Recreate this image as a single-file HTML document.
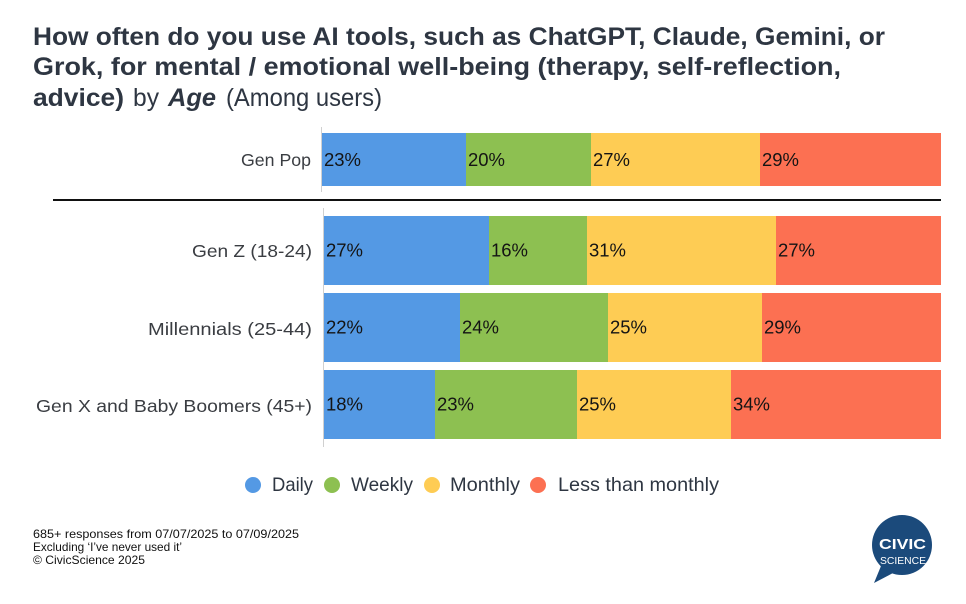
<!DOCTYPE html>
<html>
<head>
<meta charset="utf-8">
<style>
  html,body{margin:0;padding:0;background:#fff;}
  svg{display:block;}
  text{font-family:"Liberation Sans",Arial,sans-serif;}
</style>
</head>
<body>
<svg width="966" height="604" viewBox="0 0 966 604" xmlns="http://www.w3.org/2000/svg">
  <rect width="966" height="604" fill="#fff"/>

  <!-- Title -->
  <g fill="#2e3642" font-size="25">
    <text x="33" y="45" font-weight="bold" textLength="852" lengthAdjust="spacingAndGlyphs">How often do you use AI tools, such as ChatGPT, Claude, Gemini, or</text>
    <text x="33" y="75" font-weight="bold" textLength="808" lengthAdjust="spacingAndGlyphs">Grok, for mental / emotional well-being (therapy, self-reflection,</text>
    <text x="33" y="106" font-weight="bold" textLength="91" lengthAdjust="spacingAndGlyphs">advice)</text>
    <text x="133" y="106" textLength="26" lengthAdjust="spacingAndGlyphs">by</text>
    <text x="168" y="106" font-weight="bold" font-style="italic" textLength="48" lengthAdjust="spacingAndGlyphs">Age</text>
    <text x="226" y="106" textLength="156" lengthAdjust="spacingAndGlyphs">(Among users)</text>
  </g>

  <!-- Axis lines -->
  <line x1="321.5" y1="127" x2="321.5" y2="192" stroke="#d0d0d0" stroke-width="1"/>
  <line x1="323.5" y1="208" x2="323.5" y2="447" stroke="#d0d0d0" stroke-width="1"/>

  <!-- Separator -->
  <line x1="53" y1="200" x2="941" y2="200" stroke="#111" stroke-width="2"/>

  <!-- Gen Pop -->
  <rect x="322" y="133" width="144" height="53" fill="#5499e4"/>
  <rect x="466" y="133" width="125" height="53" fill="#8dc051"/>
  <rect x="591" y="133" width="169" height="53" fill="#fecc54"/>
  <rect x="760" y="133" width="181" height="53" fill="#fc7052"/>

  <!-- Gen Z -->
  <rect x="324" y="216" width="165" height="69" fill="#5499e4"/>
  <rect x="489" y="216" width="98" height="69" fill="#8dc051"/>
  <rect x="587" y="216" width="189" height="69" fill="#fecc54"/>
  <rect x="776" y="216" width="165" height="69" fill="#fc7052"/>

  <!-- Millennials -->
  <rect x="324" y="293" width="136" height="69" fill="#5499e4"/>
  <rect x="460" y="293" width="148" height="69" fill="#8dc051"/>
  <rect x="608" y="293" width="154" height="69" fill="#fecc54"/>
  <rect x="762" y="293" width="179" height="69" fill="#fc7052"/>

  <!-- Gen X -->
  <rect x="324" y="370" width="111" height="69" fill="#5499e4"/>
  <rect x="435" y="370" width="142" height="69" fill="#8dc051"/>
  <rect x="577" y="370" width="154" height="69" fill="#fecc54"/>
  <rect x="731" y="370" width="210" height="69" fill="#fc7052"/>

  <!-- Category labels -->
  <g fill="#3a3d42" font-size="17.5" text-anchor="end">
    <text x="311" y="166" textLength="70" lengthAdjust="spacingAndGlyphs">Gen Pop</text>
    <text x="312" y="257" textLength="120" lengthAdjust="spacingAndGlyphs">Gen Z (18-24)</text>
    <text x="312" y="335" textLength="164" lengthAdjust="spacingAndGlyphs">Millennials (25-44)</text>
    <text x="312" y="412" textLength="276" lengthAdjust="spacingAndGlyphs">Gen X and Baby Boomers (45+)</text>
  </g>

  <!-- Value labels -->
  <g fill="#141414" font-size="18">
    <text x="324" y="166" textLength="37" lengthAdjust="spacingAndGlyphs">23%</text>
    <text x="468" y="166" textLength="37" lengthAdjust="spacingAndGlyphs">20%</text>
    <text x="593" y="166" textLength="37" lengthAdjust="spacingAndGlyphs">27%</text>
    <text x="762" y="166" textLength="37" lengthAdjust="spacingAndGlyphs">29%</text>

    <text x="326" y="256.5" textLength="37" lengthAdjust="spacingAndGlyphs">27%</text>
    <text x="491" y="256.5" textLength="37" lengthAdjust="spacingAndGlyphs">16%</text>
    <text x="589" y="256.5" textLength="37" lengthAdjust="spacingAndGlyphs">31%</text>
    <text x="778" y="256.5" textLength="37" lengthAdjust="spacingAndGlyphs">27%</text>

    <text x="326" y="333.5" textLength="37" lengthAdjust="spacingAndGlyphs">22%</text>
    <text x="462" y="333.5" textLength="37" lengthAdjust="spacingAndGlyphs">24%</text>
    <text x="610" y="333.5" textLength="37" lengthAdjust="spacingAndGlyphs">25%</text>
    <text x="764" y="333.5" textLength="37" lengthAdjust="spacingAndGlyphs">29%</text>

    <text x="326" y="410.5" textLength="37" lengthAdjust="spacingAndGlyphs">18%</text>
    <text x="437" y="410.5" textLength="37" lengthAdjust="spacingAndGlyphs">23%</text>
    <text x="579" y="410.5" textLength="37" lengthAdjust="spacingAndGlyphs">25%</text>
    <text x="733" y="410.5" textLength="37" lengthAdjust="spacingAndGlyphs">34%</text>
  </g>

  <!-- Legend -->
  <circle cx="253" cy="485" r="8" fill="#5499e4"/>
  <circle cx="332" cy="485" r="8" fill="#8dc051"/>
  <circle cx="432" cy="485" r="8" fill="#fecc54"/>
  <circle cx="538" cy="485" r="8" fill="#fc7052"/>
  <g fill="#2e3642" font-size="19.5">
    <text x="272" y="491" textLength="41" lengthAdjust="spacingAndGlyphs">Daily</text>
    <text x="351" y="491" textLength="62" lengthAdjust="spacingAndGlyphs">Weekly</text>
    <text x="450" y="491" textLength="70" lengthAdjust="spacingAndGlyphs">Monthly</text>
    <text x="558" y="491" textLength="161" lengthAdjust="spacingAndGlyphs">Less than monthly</text>
  </g>

  <!-- Footer -->
  <g fill="#111" font-size="12">
    <text x="33" y="538" textLength="266" lengthAdjust="spacingAndGlyphs">685+ responses from 07/07/2025 to 07/09/2025</text>
    <text x="33" y="551" textLength="149" lengthAdjust="spacingAndGlyphs">Excluding ‘I’ve never used it’</text>
    <text x="33" y="564" textLength="112" lengthAdjust="spacingAndGlyphs">© CivicScience 2025</text>
  </g>

  <!-- Logo -->
  <g>
    <path d="M881 566 L874 583 L893 573 Z" fill="#1b4a7b"/>
    <circle cx="902" cy="545" r="30" fill="#1b4a7b"/>
    <text x="902.5" y="549" text-anchor="middle" fill="#fff" font-size="15" font-weight="bold" textLength="47" lengthAdjust="spacingAndGlyphs">CIVIC</text>
    <text x="903" y="564" text-anchor="middle" fill="#fff" font-size="10.5" textLength="46" lengthAdjust="spacingAndGlyphs">SCIENCE</text>
  </g>
</svg>
</body>
</html>
